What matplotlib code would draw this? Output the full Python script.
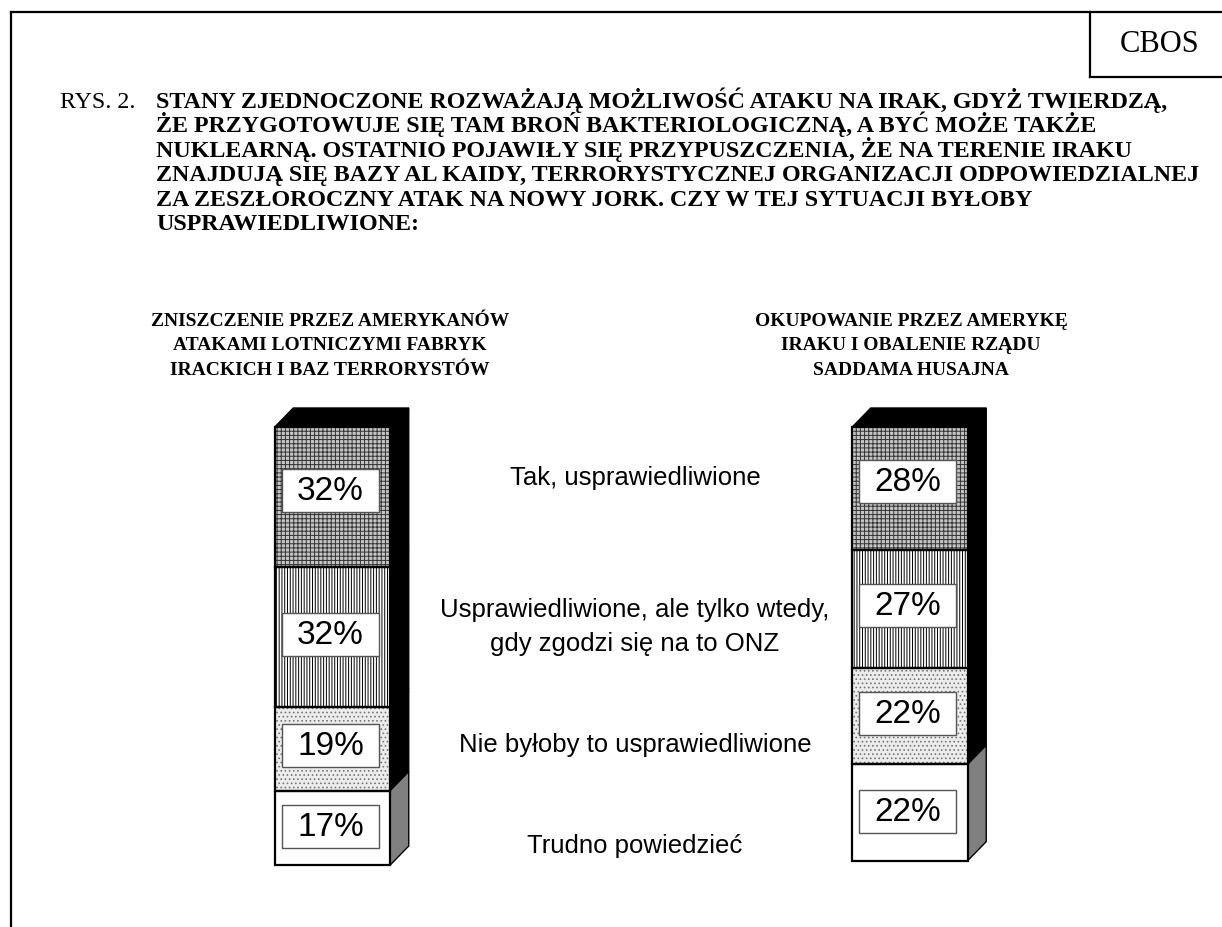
import matplotlib
matplotlib.use("Agg")
import matplotlib.pyplot as plt
from matplotlib.patches import Polygon, Rectangle
import numpy as np

# ---------------- data ----------------
categories = ["Tak, usprawiedliwione",
              "Usprawiedliwione, ale tylko wtedy,\ngdy zgodzi się na to ONZ",
              "Nie byłoby to usprawiedliwione",
              "Trudno powiedzieć"]
left_values = [32, 32, 19, 17]
right_values = [28, 27, 22, 22]
bar_titles = ["ZNISZCZENIE PRZEZ AMERYKANÓW\nATAKAMI LOTNICZYMI FABRYK\nIRACKICH I BAZ TERRORYSTÓW",
              "OKUPOWANIE PRZEZ AMERYKĘ\nIRAKU I OBALENIE RZĄDU\nSADDAMA HUSAJNA"]
title_prefix = "RYS. 2."
title_lines = ["STANY ZJEDNOCZONE ROZWAŻAJĄ MOŻLIWOŚĆ ATAKU NA IRAK, GDYŻ TWIERDZĄ,",
               "ŻE PRZYGOTOWUJE SIĘ TAM BROŃ BAKTERIOLOGICZNĄ, A BYĆ MOŻE TAKŻE",
               "NUKLEARNĄ. OSTATNIO POJAWIŁY SIĘ PRZYPUSZCZENIA, ŻE NA TERENIE IRAKU",
               "ZNAJDUJĄ SIĘ BAZY AL KAIDY, TERRORYSTYCZNEJ ORGANIZACJI ODPOWIEDZIALNEJ",
               "ZA ZESZŁOROCZNY ATAK NA NOWY JORK. CZY W TEJ SYTUACJI BYŁOBY",
               "USPRAWIEDLIWIONE:"]
source = "CBOS"

# ---------------- styling ----------------
plt.rcParams['hatch.linewidth'] = 0.7
W, H = 1222, 928
fig = plt.figure(figsize=(W / 100, H / 100), dpi=100)
fig.patch.set_facecolor("white")
ax = fig.add_axes([0, 0, 1, 1])
ax.axis("off")

# axes scaling: x positions 0,1 -> bar centres; y in percent, stacked downward
px_per_x = 577.5
x0_px = 332.5
px_per_pct = 4.38
ytop_px = 428
ax.set_xlim(-x0_px / px_per_x, (W - x0_px) / px_per_x)
ax.set_ylim((H - ytop_px) / px_per_pct, -ytop_px / px_per_pct)

bar_w = 115.5 / px_per_x
dx = 18.5 / px_per_x
dy = 19 / px_per_pct

seg_styles = [
    dict(facecolor="#c4c4c4", hatch="++++", edgecolor="#333333"),
    dict(facecolor="white", hatch="||||||", edgecolor="black"),
    dict(facecolor="#ececec", hatch="....", edgecolor="#777777"),
    dict(facecolor="white", hatch=None, edgecolor="white"),
]
side_colors = ["black", "black", "black", "#808080"]
label_shift_px = [-7, -3, -3, -1]

def fig_text(x, y, s, **kw):
    fig.text(x / W, 1 - y / H, s, **kw)

for xi, vals in enumerate([left_values, right_values]):
    bottoms = np.concatenate([[0], np.cumsum(vals)[:-1]])
    xl = xi - bar_w / 2
    xr = xi + bar_w / 2
    # top face
    ax.add_patch(Polygon([(xl, 0), (xl + dx, -dy), (xr + dx, -dy), (xr, 0)],
                         closed=True, facecolor="black", edgecolor="black", lw=1, zorder=2))
    for k, (v, b) in enumerate(zip(vals, bottoms)):
        st = seg_styles[k]
        ax.bar(xi, v, bottom=b, width=bar_w, color=st["facecolor"], hatch=st["hatch"],
               edgecolor=st["edgecolor"], linewidth=0, zorder=2)
        ax.bar(xi, v, bottom=b, width=bar_w, fill=False, edgecolor="black",
               linewidth=1.6, zorder=3)
        # side face
        ax.add_patch(Polygon([(xr, b), (xr + dx, b - dy), (xr + dx, b + v - dy), (xr, b + v)],
                             closed=True, facecolor=side_colors[k], edgecolor="black",
                             lw=1, zorder=2))
        # label box
        bw = 97 / px_per_x
        bh = 43 / px_per_pct
        yc = b + v / 2 + label_shift_px[k] / px_per_pct
        xc = xi - 2 / px_per_x
        ax.add_patch(Rectangle((xc - bw / 2, yc - bh / 2), bw, bh,
                               facecolor="white", edgecolor="#555555", lw=1.0, zorder=4))
        ax.text(xc, yc, f"{v}%", ha="center", va="center",
                fontsize=24, family="Liberation Sans", zorder=5)

# ---------------- category labels (middle) ----------------
label_y = [485, 617, 752, 853]
for lab, y in zip(categories, label_y):
    for j, line in enumerate(lab.split("\n")):
        fig_text(635, y + j * 34, line, ha="center", va="baseline",
                 fontsize=18.5, family="Liberation Sans")

# ---------------- bar titles ----------------
for cx, t in zip([330, 911], bar_titles):
    for j, line in enumerate(t.split("\n")):
        fig_text(cx, 326 + j * 24.5, line, ha="center", va="baseline",
                 fontsize=14, fontweight="bold", family="Liberation Serif")

# ---------------- main title ----------------
fig_text(60, 108, title_prefix, ha="left", va="baseline", fontsize=17.3,
         family="Liberation Serif")
for j, line in enumerate(title_lines):
    fig_text(156, 108 + j * 24.4, line, ha="left", va="baseline", fontsize=17.3,
             fontweight="bold", family="Liberation Serif")

# ---------------- frame and CBOS box ----------------
def fig_line(xs, ys, **kw):
    fig.add_artist(plt.Line2D([x / W for x in xs], [1 - y / H for y in ys],
                              transform=fig.transFigure, **kw))

fig_line([11, 11], [13, H], color="black", lw=1.6)
fig_line([11, W], [13, 13], color="black", lw=1.6)
fig_line([1090, 1090], [13, 78], color="black", lw=1.6)
fig_line([1090, W], [78, 78], color="black", lw=1.6)
fig_text(1160, 45, source, ha="center", va="center", fontsize=22,
         family="Liberation Serif")

fig.savefig("out.png", dpi=100)
